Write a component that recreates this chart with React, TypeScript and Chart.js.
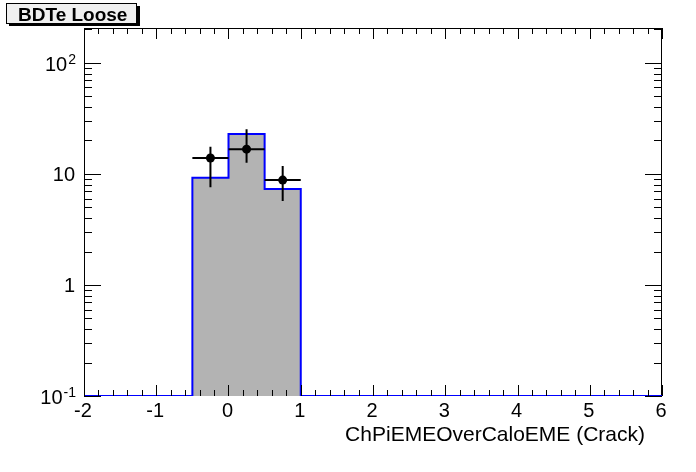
import React, { useEffect, useRef } from "react";
import { Chart, registerables } from "chart.js";

Chart.register(...registerables);

// ---- data ----
const binEdges = [-2, -1.5, -1, -0.5, 0, 0.5, 1, 1.5, 2, 2.5, 3, 3.5, 4, 4.5, 5, 5.5, 6];
const mcContent = [0, 0, 0, 9.25, 22.9, 7.3, 0, 0, 0, 0, 0, 0, 0, 0, 0, 0];
const dataX = [-0.25, 0.25, 0.75];
const dataY = [13.9, 16.7, 8.8];
const dataYHigh = [17.6, 25.3, 11.8];
const dataYLow = [7.6, 12.6, 5.7];
const dataXErr = [0.25, 0.25, 0.25];

const xTickValues = [-2, -1, 0, 1, 2, 3, 4, 5, 6];
const xTickLabels = ["-2", "-1", "0", "1", "2", "3", "4", "5", "6"];
const yTickValues = [0.1, 1, 10, 100];
const yTickBases = ["10", "1", "10", "10"];
const yTickExps = ["-1", "", "", "2"];

const xMin = -2;
const xMax = 6;
const yMin = 0.1;
const yMax = 206;

const titleText = "BDTe Loose";
const xTitle = "ChPiEMEOverCaloEME (Crack)";

const FONT = "'Liberation Sans', Arial, Helvetica, sans-serif";

const rootPlugin = {
  id: "rootStyle",
  beforeDatasetsDraw(chart: any) {
    const { ctx, chartArea: a } = chart;
    ctx.save();
    ctx.strokeStyle = "#000";
    ctx.lineWidth = 1;
    ctx.strokeRect(a.left + 0.5, a.top + 0.5, a.right - a.left - 1, a.bottom - a.top - 1);
    ctx.restore();
  },
  afterDatasetDraw(chart: any, args: any) {
    // error bars drawn right after the histogram, before the markers
    if (args.index !== 0) return;
    const { ctx } = chart;
    const xs = chart.scales.x;
    const ys = chart.scales.y;
    ctx.save();
    ctx.strokeStyle = "#000";
    ctx.lineWidth = 2;
    for (let i = 0; i < dataX.length; i++) {
      const px = xs.getPixelForValue(dataX[i]);
      const py = ys.getPixelForValue(dataY[i]);
      ctx.beginPath();
      ctx.moveTo(xs.getPixelForValue(dataX[i] - dataXErr[i]), py);
      ctx.lineTo(xs.getPixelForValue(dataX[i] + dataXErr[i]), py);
      ctx.moveTo(px, ys.getPixelForValue(dataYHigh[i]));
      ctx.lineTo(px, ys.getPixelForValue(dataYLow[i]));
      ctx.stroke();
    }
    ctx.restore();
  },
  afterDatasetsDraw(chart: any) {
    const { ctx, chartArea: a } = chart;
    const xs = chart.scales.x;
    const ys = chart.scales.y;
    ctx.save();

    // frame ticks
    ctx.lineWidth = 1;
    ctx.strokeStyle = "#000";
    ctx.beginPath();
    for (let v = xMin; v <= xMax + 1e-9; v += 0.2) {
      const isMajor = Math.abs(v - Math.round(v)) < 1e-6;
      const px = Math.round(xs.getPixelForValue(v)) + 0.5;
      const len = isMajor ? 11 : 6;
      ctx.moveTo(px, a.bottom);
      ctx.lineTo(px, a.bottom - len);
      ctx.moveTo(px, a.top);
      ctx.lineTo(px, a.top + len);
    }
    for (let d = -1; d <= 2; d++) {
      for (let m = 1; m <= 9; m++) {
        const v = m * Math.pow(10, d);
        if (v < yMin - 1e-12 || v > yMax) continue;
        const py = Math.round(ys.getPixelForValue(v)) + 0.5;
        const isMajor = m === 1;
        ctx.moveTo(a.left, py);
        ctx.lineTo(a.left + (isMajor ? 17 : 8), py);
        ctx.moveTo(a.right, py);
        ctx.lineTo(a.right - (isMajor ? 17 : 8), py);
      }
    }
    ctx.stroke();

    // x tick labels
    ctx.fillStyle = "#000";
    ctx.font = `20px ${FONT}`;
    ctx.textAlign = "center";
    ctx.textBaseline = "alphabetic";
    xTickValues.forEach((v, i) => {
      ctx.fillText(xTickLabels[i], xs.getPixelForValue(v) - 1, a.bottom + 21);
    });

    // y tick labels
    const rightEdge = 76;
    yTickValues.forEach((v, i) => {
      const py = ys.getPixelForValue(v);
      const base = yTickBases[i];
      const exp = yTickExps[i];
      if (exp) {
        ctx.font = `14px ${FONT}`;
        const ew = ctx.measureText(exp).width;
        ctx.font = `20px ${FONT}`;
        const bw = ctx.measureText(base).width;
        const baseY = py + 8;
        ctx.textAlign = "left";
        ctx.fillText(base, rightEdge - ew - bw - 1, baseY);
        ctx.font = `14px ${FONT}`;
        ctx.fillText(exp, rightEdge - ew, baseY - 7);
      } else {
        ctx.font = `20px ${FONT}`;
        ctx.textAlign = "right";
        ctx.fillText(base, rightEdge - 1, py + 7);
      }
    });

    // x axis title
    ctx.font = `21px ${FONT}`;
    ctx.textAlign = "right";
    ctx.fillText(xTitle, 645, 441);

    // title box
    ctx.fillStyle = "#000";
    ctx.fillRect(137, 6, 3, 20);
    ctx.fillRect(9, 24, 131, 2);
    ctx.fillStyle = "#f0f0f0";
    ctx.fillRect(6, 3, 131, 21);
    ctx.strokeStyle = "#000";
    ctx.lineWidth = 1;
    ctx.strokeRect(6.5, 3.5, 130, 20);
    ctx.fillStyle = "#000";
    ctx.font = `bold 19px ${FONT}`;
    ctx.textAlign = "left";
    ctx.fillText(titleText, 18, 21);

    ctx.restore();
  },
};

export default function App() {
  const ref = useRef<HTMLCanvasElement>(null);
  useEffect(() => {
    if (!ref.current) return;
    const histPoints = binEdges.map((e, i) => ({
      x: e,
      y: Math.max(i < mcContent.length ? mcContent[i] : mcContent[mcContent.length - 1], yMin),
    }));
    const pts = dataX.map((x, i) => ({ x, y: dataY[i] }));
    const chart = new Chart(ref.current, {
      type: "line",
      data: {
        datasets: [
          {
            type: "line",
            order: 2,
            data: histPoints,
            stepped: "before",
            borderColor: "#0000ff",
            borderWidth: 2,
            backgroundColor: "#b3b3b3",
            fill: "start",
            pointRadius: 0,
            tension: 0,
          } as any,
          {
            type: "scatter",
            order: 1,
            data: pts,
            pointRadius: 4.5,
            pointStyle: "circle",
            pointBackgroundColor: "#000",
            pointBorderColor: "#000",
            pointBorderWidth: 0,
            showLine: false,
          } as any,
        ],
      },
      options: {
        responsive: false,
        animation: false,
        devicePixelRatio: 1,
        layout: { padding: { left: 84, right: 34, top: 28, bottom: 76 } },
        plugins: { legend: { display: false }, tooltip: { enabled: false } },
        scales: {
          x: { type: "linear", min: xMin, max: xMax, display: false },
          y: { type: "logarithmic", min: yMin, max: yMax, display: false },
        },
      },
      plugins: [rootPlugin],
    });
    return () => chart.destroy();
  }, []);
  return (
    <div style={{ position: "fixed", left: 0, top: 0, width: 696, height: 472, background: "#fff" }}>
      <canvas ref={ref} width={696} height={472} style={{ width: 696, height: 472 }} />
    </div>
  );
}
